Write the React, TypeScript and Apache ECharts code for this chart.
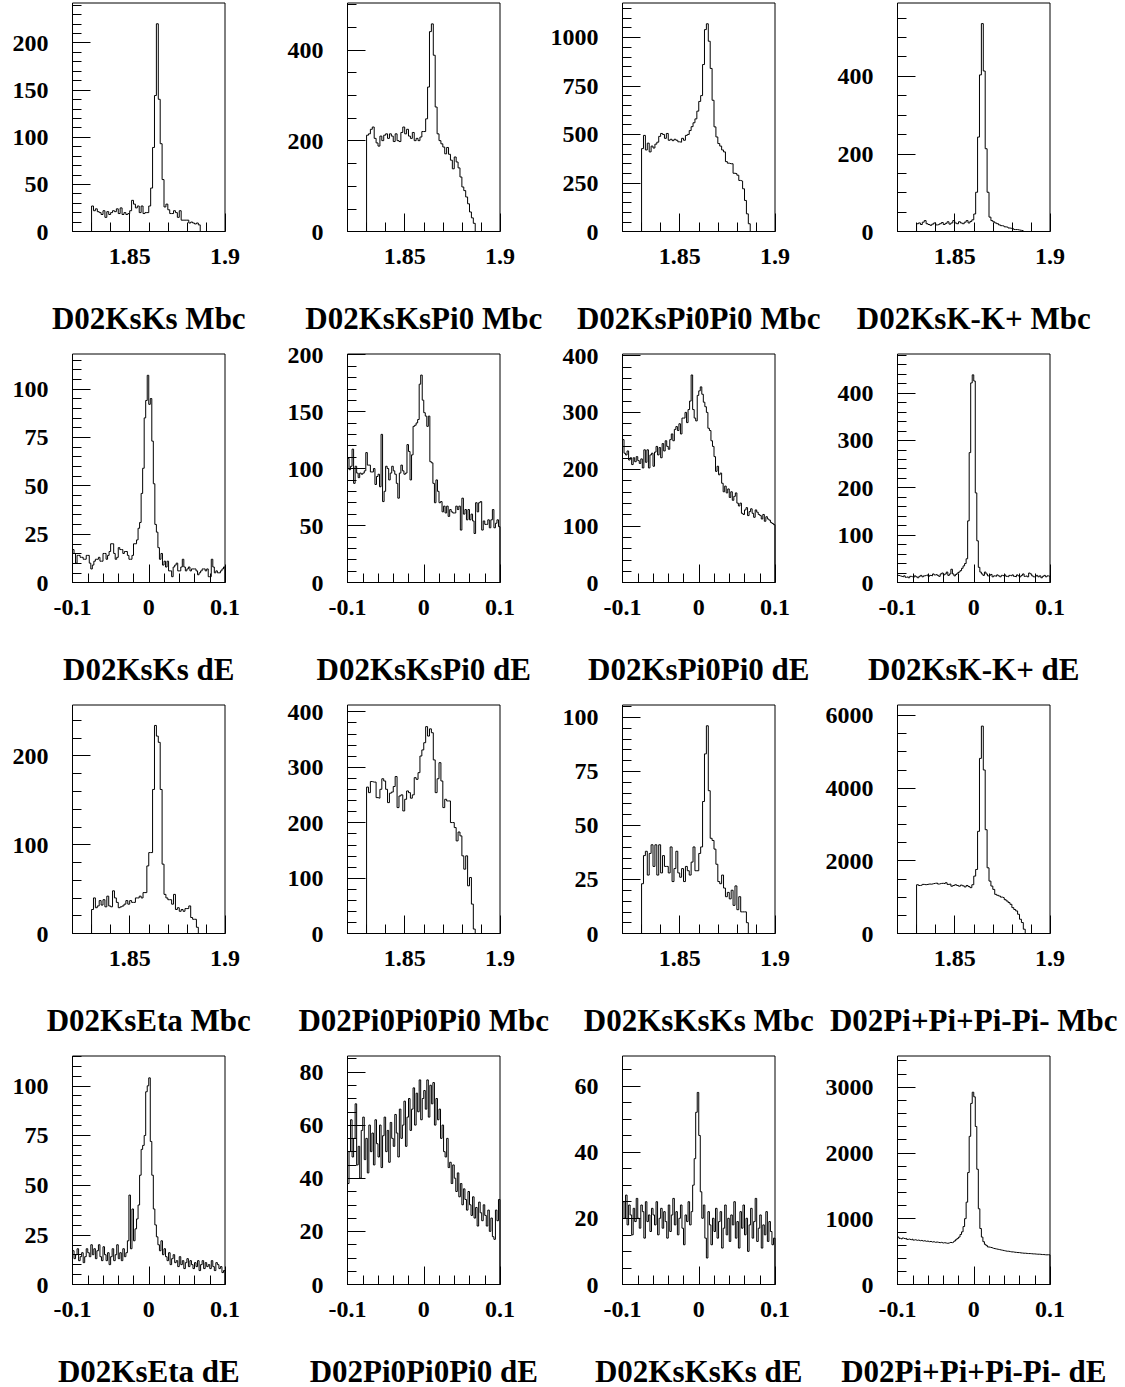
import React, { useEffect, useRef } from "react";
import * as echarts from "echarts";

// ---- binning ----
// Mbc histograms: 1 MeV bins, first filled bin starts at 1.830 GeV
const MBC_FIRST_EDGE = 1.83;
const MBC_BIN_WIDTH = 0.001;
// dE histograms: 2 MeV bins over -0.1 .. 0.1 GeV
const DE_FIRST_EDGE = -0.1;
const DE_BIN_WIDTH = 0.002;

// ---- x axes ----
const MBC_RANGE = [1.82, 1.9];
const DE_RANGE = [-0.1, 0.1];
const MBC_X_LABELS = [1.85, 1.9];
const DE_X_LABELS = [-0.1, 0, 0.1];
const MBC_X_MINOR_STEP = 0.01;
const DE_X_MINOR_STEP = 0.02;

// ---- bin contents ----
const ksKsMbc = [
  27, 22, 24, 21, 20, 18, 22, 15, 21, 18,
  20, 22, 21, 24, 19, 25, 18, 20, 18, 19,
  22, 33, 29, 25, 27, 20, 27, 19, 20, 20,
  27, 46, 89, 144, 220, 140, 93, 55, 26, 29,
  23, 19, 19, 22, 20, 15, 22, 12, 12, 12,
  12, 9, 10, 9, 8, 9, 7,
];
const ksKsPi0Mbc = [
  212, 215, 225, 230, 205, 195, 188, 210, 200, 212,
  215, 205, 215, 210, 198, 215, 200, 198, 218, 230,
  215, 225, 210, 205, 218, 200, 205, 200, 208, 220,
  220, 248, 318, 440, 457, 388, 274, 215, 200, 193,
  186, 171, 185, 170, 157, 138, 164, 153, 140, 120,
  98, 90, 76, 61, 43, 30, 18,
];
const ksPi0Pi0Mbc = [
  427, 495, 420, 455, 410, 440, 430, 450, 460, 490,
  505, 500, 480, 505, 470, 475, 468, 475, 470, 462,
  460, 480, 470, 495, 500, 520, 540, 560, 580, 620,
  670, 700, 860, 1040, 1070, 980, 840, 676, 539, 487,
  453, 440, 420, 410, 360, 352, 349, 349, 300, 298,
  290, 263, 260, 220, 160, 91, 40,
];
const ksKKMbc = [
  20, 22, 18, 24, 28, 20, 18, 16, 19, 22,
  17, 18, 20, 23, 18, 21, 25, 19, 22, 28,
  22, 20, 25, 22, 20, 24, 28, 22, 26, 30,
  45, 101, 243, 403, 535, 413, 213, 101, 37, 28,
  25, 22, 20, 17, 15, 14, 12, 11, 9, 8,
  7, 5, 5, 4, 3, 2, 0,
];
const ksKsDE = [
  17, 15, 10, 14, 14, 13, 13, 12, 12, 14,
  14, 10, 7, 9, 11, 12, 12, 13, 11, 11,
  15, 15, 12, 14, 16, 20, 20, 15, 12, 13,
  18, 17, 17, 15, 16, 16, 14, 12, 12, 14,
  20, 20, 22, 28, 31, 46, 59, 85, 94, 107,
  92, 95, 73, 51, 30, 26, 18, 12, 15, 9,
  11, 8, 11, 6, 6, 3, 8, 9, 10, 6,
  6, 8, 12, 8, 6, 7, 8, 6, 7, 7,
  7, 6, 4, 5, 6, 7, 7, 6, 7, 3,
  3, 12, 8, 5, 6, 5, 5, 6, 7, 8,
];
const ksKsPi0DE = [
  109, 99, 102, 117, 87, 102, 96, 92, 96, 95,
  96, 98, 114, 103, 103, 97, 97, 100, 86, 93,
  95, 84, 130, 71, 80, 102, 100, 90, 96, 102,
  98, 95, 87, 74, 96, 103, 98, 95, 96, 121,
  115, 90, 112, 137, 138, 140, 143, 174, 182, 160,
  149, 146, 137, 146, 106, 105, 87, 70, 90, 80,
  70, 71, 62, 67, 61, 67, 58, 64, 62, 61,
  61, 67, 64, 67, 46, 74, 60, 64, 55, 64,
  55, 60, 54, 43, 70, 62, 70, 71, 46, 54,
  51, 51, 55, 48, 55, 64, 48, 52, 55, 49,
];
const ksPi0Pi0DE = [
  252, 228, 225, 232, 216, 220, 208, 220, 213, 222,
  215, 210, 218, 202, 234, 212, 234, 202, 225, 228,
  205, 230, 240, 225, 238, 220, 245, 232, 250, 240,
  235, 252, 262, 250, 270, 275, 268, 280, 262, 290,
  290, 300, 282, 305, 320, 366, 305, 290, 285, 330,
  338, 345, 332, 318, 310, 300, 272, 268, 250, 240,
  222, 196, 205, 190, 193, 175, 160, 170, 158, 165,
  150, 160, 145, 152, 158, 140, 135, 140, 122, 120,
  128, 132, 118, 125, 130, 122, 115, 128, 124, 120,
  118, 112, 120, 108, 116, 112, 110, 106, 104, 102,
];
const ksKKDE = [
  15, 14, 13, 12, 14, 11, 12, 10, 13, 12,
  11, 14, 12, 10, 13, 15, 12, 14, 15, 16,
  13, 15, 14, 18, 16, 17, 15, 13, 18, 20,
  16, 18, 22, 15, 18, 28, 18, 14, 17, 20,
  22, 25, 30, 35, 40, 50, 130, 274, 421, 438,
  425, 189, 88, 32, 22, 18, 15, 22, 18, 14,
  15, 17, 12, 14, 13, 16, 14, 12, 15, 14,
  16, 13, 12, 15, 14, 16, 13, 12, 16, 14,
  12, 15, 18, 13, 14, 12, 20, 18, 14, 12,
  13, 15, 12, 14, 10, 13, 15, 12, 14, 13,
];
const ksEtaMbc = [
  27, 40, 29, 31, 37, 32, 38, 30, 42, 31,
  30, 48, 40, 35, 29, 30, 31, 33, 37, 33,
  37, 35, 35, 40, 40, 42, 40, 46, 46, 76,
  91, 91, 162, 234, 222, 215, 162, 78, 44, 40,
  38, 38, 33, 44, 27, 29, 25, 27, 25, 28,
  28, 31, 18, 16, 16, 7, 0,
];
const pi0Pi0Pi0Mbc = [
  264, 254, 274, 273, 273, 245, 244, 260, 279, 275,
  260, 236, 253, 255, 265, 283, 227, 248, 250, 221,
  242, 257, 254, 244, 250, 281, 278, 290, 320, 331,
  344, 373, 356, 369, 362, 313, 254, 279, 308, 275,
  227, 242, 239, 239, 200, 200, 191, 167, 183, 176,
  140, 116, 140, 86, 101, 53, 8,
];
const ksKsKsMbc = [
  23, 36, 38, 27, 37, 41, 31, 41, 27, 41,
  28, 36, 31, 31, 28, 40, 24, 30, 38, 28,
  26, 30, 24, 31, 29, 27, 33, 40, 29, 29,
  37, 40, 61, 83, 96, 66, 44, 43, 39, 32,
  24, 23, 27, 21, 17, 19, 16, 20, 13, 22,
  11, 17, 10, 10, 10, 5, 0,
];
const fourPiMbc = [
  1340, 1320, 1330, 1350, 1340, 1350, 1360, 1355, 1370, 1380,
  1385, 1360, 1375, 1380, 1370, 1395, 1350, 1360, 1300, 1320,
  1340, 1320, 1300, 1330, 1310, 1280, 1320, 1290, 1260, 1340,
  1577, 1760, 2808, 4813, 5700, 4494, 2853, 1805, 1440, 1304,
  1212, 1076, 1050, 1030, 1000, 984, 930, 893, 850, 802,
  711, 660, 620, 529, 392, 301, 118,
];
const ksEtaDE = [
  17, 13, 15, 18, 12, 14, 16, 11, 14, 18,
  16, 14, 20, 15, 18, 13, 17, 20, 14, 12,
  19, 15, 12, 16, 10, 14, 18, 12, 15, 20,
  13, 16, 12, 18, 14, 16, 22, 45, 18, 38,
  22, 28, 33, 40, 55, 68, 70, 75, 97, 100,
  104, 72, 55, 38, 30, 24, 20, 17, 22, 15,
  18, 14, 12, 16, 10, 13, 15, 11, 12, 9,
  14, 10, 12, 8, 11, 13, 9, 12, 10, 8,
  11, 9, 12, 7, 10, 12, 8, 11, 9, 10,
  8, 12, 9, 7, 11, 10, 8, 9, 6, 7,
];
const pi0Pi0Pi0DE = [
  38, 50, 62, 48, 55, 68, 45, 52, 40, 58,
  63, 47, 55, 42, 60, 50, 57, 45, 62, 53,
  48, 60, 44, 56, 63, 50, 58, 46, 61, 55,
  52, 64, 57, 48, 66, 55, 60, 69, 52, 63,
  70, 58, 66, 74, 60, 72, 65, 77, 62, 70,
  73, 66, 77, 63, 75, 68, 76, 60, 70, 62,
  66, 55, 60, 50, 48, 55, 44, 46, 38, 45,
  40, 35, 42, 33, 38, 30, 36, 32, 28, 35,
  30, 26, 33, 25, 29, 22, 31, 27, 24, 30,
  26, 22, 28, 20, 25, 18, 17, 28, 24, 32,
];
const ksKsKsDE = [
  25, 20, 27, 18, 24, 21, 15, 23, 19, 26,
  20, 17, 24, 22, 14, 25, 19, 21, 16, 23,
  21, 18, 25, 15, 20, 23, 17, 22, 19, 14,
  24, 16, 21, 26, 18, 22, 15, 20, 24, 17,
  12, 21, 19, 25, 18, 22, 30, 38, 52, 58,
  45, 28, 20, 24, 14, 8, 22, 18, 12, 20,
  16, 23, 14, 19, 22, 11, 17, 24, 15, 20,
  13, 21, 18, 25, 14, 19, 11, 22, 17, 24,
  15, 20, 10, 18, 23, 14, 19, 26, 13, 17,
  21, 11, 18, 15, 22, 13, 19, 16, 12, 14,
];
const fourPiDE = [
  720, 700, 690, 705, 695, 700, 685, 690, 680, 690,
  675, 680, 670, 675, 665, 670, 660, 665, 655, 660,
  650, 655, 645, 650, 640, 645, 640, 635, 640, 630,
  635, 630, 625, 630, 640, 635, 645, 660, 680, 700,
  720, 760, 800, 880, 1000, 1250, 1700, 2250, 2750, 2920,
  2850, 2400, 1750, 1150, 850, 720, 650, 610, 590, 570,
  565, 560, 550, 545, 540, 535, 530, 525, 520, 515,
  510, 505, 505, 500, 495, 495, 490, 488, 485, 485,
  480, 478, 475, 475, 472, 470, 470, 468, 465, 465,
  462, 460, 460, 458, 455, 455, 452, 450, 452, 450,
];

// ---- per-panel titles and y axes (row by row) ----
const titles = [
  "D02KsKs Mbc", "D02KsKsPi0 Mbc", "D02KsPi0Pi0 Mbc", "D02KsK-K+ Mbc",
  "D02KsKs dE", "D02KsKsPi0 dE", "D02KsPi0Pi0 dE", "D02KsK-K+ dE",
  "D02KsEta Mbc", "D02Pi0Pi0Pi0 Mbc", "D02KsKsKs Mbc", "D02Pi+Pi+Pi-Pi- Mbc",
  "D02KsEta dE", "D02Pi0Pi0Pi0 dE", "D02KsKsKs dE", "D02Pi+Pi+Pi-Pi- dE",
];
const counts = [
  ksKsMbc, ksKsPi0Mbc, ksPi0Pi0Mbc, ksKKMbc,
  ksKsDE, ksKsPi0DE, ksPi0Pi0DE, ksKKDE,
  ksEtaMbc, pi0Pi0Pi0Mbc, ksKsKsMbc, fourPiMbc,
  ksEtaDE, pi0Pi0Pi0DE, ksKsKsDE, fourPiDE,
];
const isMbc = [
  true, true, true, true,
  false, false, false, false,
  true, true, true, true,
  false, false, false, false,
];
const yMaxima = [
  242, 503, 1177, 588,
  118, 200.5, 403, 482,
  257, 412, 105.6, 6280,
  115, 86, 69, 3470,
];
const yLabels = [
  [0, 50, 100, 150, 200], [0, 200, 400], [0, 250, 500, 750, 1000], [0, 200, 400],
  [0, 25, 50, 75, 100], [0, 50, 100, 150, 200], [0, 100, 200, 300, 400], [0, 100, 200, 300, 400],
  [0, 100, 200], [0, 100, 200, 300, 400], [0, 25, 50, 75, 100], [0, 2000, 4000, 6000],
  [0, 25, 50, 75, 100], [0, 20, 40, 60, 80], [0, 20, 40, 60], [0, 1000, 2000, 3000],
];
const yMinorSteps = [
  10, 50, 50, 50,
  5, 10, 20, 20,
  20, 20, 5, 500,
  5, 5, 5, 200,
];

// ---- layout (pixels) ----
const FRAME_LEFT = 72.5;
const COL_STEP = 275;
const FRAME_W = 152.5;
const FRAME_TOP = 3;
const ROW_STEP = 351;
const FRAME_H = 228.5;
const TITLE_DY = 315;

const FONT = "Liberation Serif";
const MAJOR_TICK = 18;
const MINOR_TICK = 9;

function stepValues(min: number, max: number, step: number): number[] {
  const n = Math.floor((max - min) / step + 1e-6);
  const out: number[] = [];
  for (let k = 0; k <= n; k++) out.push(Math.round((min + k * step) * 1e6) / 1e6);
  return out;
}

// Outline of a histogram as step-line vertices
function histPoints(values: number[], firstEdge: number, width: number): number[][] {
  const edge = (i: number) => Math.round((firstEdge + i * width) * 1e6) / 1e6;
  const pts: number[][] = [[edge(0), 0]];
  values.forEach((v, i) => pts.push([edge(i), v]));
  const n = values.length;
  pts.push([edge(n), values[n - 1]]);
  pts.push([edge(n), 0]);
  return pts;
}

function buildOption() {
  const grid: any[] = [];
  const xAxis: any[] = [];
  const yAxis: any[] = [];
  const series: any[] = [];
  const graphic: any[] = [];
  const labelStyle = {
    fontFamily: FONT,
    fontWeight: "bold",
    fontSize: 24,
    color: "#000",
  };
  const tickLine = { color: "#000", width: 1 };

  titles.forEach((title, i) => {
    const r = Math.floor(i / 4);
    const c = i % 4;
    const left = FRAME_LEFT + c * COL_STEP;
    const top = FRAME_TOP + r * ROW_STEP;
    grid.push({
      left,
      top,
      width: FRAME_W,
      height: FRAME_H,
      show: true,
      borderColor: "#000",
      borderWidth: 1,
      backgroundColor: "transparent",
    });

    const mbc = isMbc[i];
    const range = mbc ? MBC_RANGE : DE_RANGE;
    const xLabels = mbc ? MBC_X_LABELS : DE_X_LABELS;
    const xMinor = stepValues(range[0], range[1], mbc ? MBC_X_MINOR_STEP : DE_X_MINOR_STEP);
    const yMax = yMaxima[i];
    const yMinor = stepValues(0, yMax, yMinorSteps[i]);

    const baseX = {
      type: "value",
      gridIndex: i,
      position: "bottom",
      min: range[0],
      max: range[1],
      axisLine: { show: false, onZero: false },
      splitLine: { show: false },
    };
    xAxis.push({
      ...baseX,
      axisTick: { show: true, inside: true, length: MINOR_TICK, customValues: xMinor, lineStyle: tickLine },
      axisLabel: { show: false },
    });
    xAxis.push({
      ...baseX,
      axisTick: { show: true, inside: true, length: MAJOR_TICK, customValues: xLabels, lineStyle: tickLine },
      axisLabel: {
        show: true,
        customValues: xLabels,
        showMinLabel: true,
        showMaxLabel: true,
        margin: 12,
        formatter: (v: number) => String(v),
        ...labelStyle,
      },
    });

    const baseY = {
      type: "value",
      gridIndex: i,
      position: "left",
      min: 0,
      max: yMax,
      axisLine: { show: false, onZero: false },
      splitLine: { show: false },
    };
    yAxis.push({
      ...baseY,
      axisTick: { show: true, inside: true, length: MINOR_TICK, customValues: yMinor, lineStyle: tickLine },
      axisLabel: { show: false },
    });
    yAxis.push({
      ...baseY,
      axisTick: { show: true, inside: true, length: MAJOR_TICK, customValues: yLabels[i], lineStyle: tickLine },
      axisLabel: {
        show: true,
        customValues: yLabels[i],
        showMinLabel: true,
        showMaxLabel: true,
        margin: 24,
        formatter: (v: number) => String(v),
        ...labelStyle,
      },
    });

    series.push({
      type: "line",
      name: title,
      xAxisIndex: 2 * i,
      yAxisIndex: 2 * i,
      data: histPoints(counts[i], mbc ? MBC_FIRST_EDGE : DE_FIRST_EDGE, mbc ? MBC_BIN_WIDTH : DE_BIN_WIDTH),
      step: "end",
      symbol: "none",
      showSymbol: false,
      clip: true,
      silent: true,
      lineStyle: { color: "#000", width: 1 },
    });

    graphic.push({
      type: "text",
      x: left + FRAME_W / 2,
      y: top + TITLE_DY,
      style: {
        text: title,
        fill: "#000",
        fontFamily: FONT,
        fontWeight: "bold",
        fontSize: 31,
        align: "center",
        verticalAlign: "middle",
      },
    });
  });

  return {
    animation: false,
    backgroundColor: "#fff",
    grid,
    xAxis,
    yAxis,
    series,
    graphic,
  };
}

export default function App() {
  const ref = useRef<HTMLDivElement>(null);
  useEffect(() => {
    if (!ref.current) return;
    const chart = echarts.init(ref.current, undefined, { renderer: "svg" });
    chart.setOption(buildOption() as any);
    return () => chart.dispose();
  }, []);
  return (
    <div
      ref={ref}
      style={{ position: "absolute", left: 0, top: 0, width: 1125, height: 1387, background: "#fff" }}
    />
  );
}
